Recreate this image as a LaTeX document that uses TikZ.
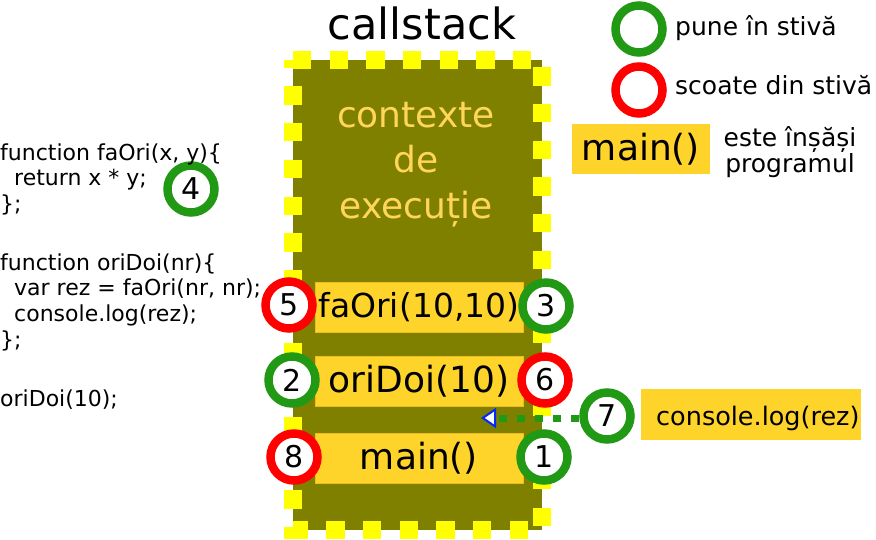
\documentclass[tikz,border=0pt]{standalone}
\usepackage{fontspec}
\setmainfont{DejaVu Sans}
\usetikzlibrary{arrows.meta}
\definecolor{olivebg}{RGB}{128,128,0}
\definecolor{ybord}{RGB}{255,255,0}
\definecolor{framey}{RGB}{255,212,42}
\definecolor{framed}{RGB}{235,190,30}
\definecolor{ctxcol}{RGB}{255,214,90}
\definecolor{pushg}{RGB}{34,153,20}
\definecolor{popr}{RGB}{255,0,0}
\definecolor{tipblue}{RGB}{0,40,255}
\tikzset{
  frame/.style={fill=framey, draw=framed, line width=0.8pt, minimum width=208pt, minimum height=50pt, inner sep=0pt},
  ring/.style={circle, fill=white, line width=8.5pt, minimum size=47pt, inner sep=0pt, font=\fontsize{30}{34}\selectfont},
  pushc/.style={ring, draw=pushg},
  popc/.style={ring, draw=popr},
  codeline/.style={anchor=base west, inner sep=0pt, font=\fontsize{22}{26}\selectfont},
  legtext/.style={anchor=base west, inner sep=0pt, font=\fontsize{25}{30}\selectfont},
  ctxtext/.style={anchor=base, inner sep=0pt, text=ctxcol, font=\fontsize{36}{43}\selectfont},
}
\begin{document}
\begin{tikzpicture}[x=1pt,y=-1pt]
\useasboundingbox (0,0) rectangle (876,540);
% title
\node[anchor=base, inner sep=0pt, font=\fontsize{43}{50}\selectfont] (title) at (422,40) {callstack};
% stack
\node[fill=olivebg, minimum width=249pt, minimum height=470pt, inner sep=0pt] (stack) at (417.5,295) {};
\draw[ybord, line width=18pt, dash pattern=on 18.35pt off 18.35pt, line cap=butt]
  (stack.north west) -- (stack.north east) -- (stack.south east) -- (stack.south west) -- cycle;
\node[ctxtext] (ctx1) at (416,128) {contexte};
\node[ctxtext] (ctx2) at (416,173) {de};
\node[ctxtext] (ctx3) at (416,219) {execuție};
% frames
\node[frame] (fafr) at (419,307) {};
\node[frame] (odfr) at (419,381.5) {};
\node[frame] (mnfr) at (419,458) {};
% circles
\node[popc] (c5) at (289,305) {5};
\node[pushc] (c3) at (546,306) {3};
\node[pushc] (c2) at (292,380) {2};
\node[popc] (c6) at (545,380) {6};
\node[popc] (c8) at (294,457) {8};
\node[pushc] (c1) at (544,457) {1};
\node[pushc] (c7) at (607,416) {7};
\node[pushc] (c4) at (191,189) {4};
% frame texts
\node[inner sep=0pt, font=\fontsize{33}{40}\selectfont] (fatx) at (fafr) {faOri(10,10)};
\node[inner sep=0pt, font=\fontsize{36}{43}\selectfont] (odtx) at (odfr) {oriDoi(10)};
\node[inner sep=0pt, font=\fontsize{36}{43}\selectfont] (mntx) at (mnfr) {main()};
% arrow
\coordinate (tip) at (481,418);
\draw[pushg, line width=7pt, dash pattern=on 8pt off 10pt, line cap=butt,
  -{Triangle[open, length=15pt, width=20pt, line width=2pt, color=tipblue, fill=white]}]
  (c7.west |- tip) -- (tip);
% console.log box
\node[fill=framey, minimum width=220pt, minimum height=51pt, inner sep=0pt] (clbox) at (751,414.5) {};
\node[anchor=base west, inner sep=0pt, font=\fontsize{25.5}{30}\selectfont] (cltx) at (656,425) {console.log(rez)};
% legend
\node[pushc] (lg) at (639,29) {};
\node[popc] (lr) at (639,90) {};
\node[legtext] (lgt) at (675,36) {pune în stivă};
\node[legtext] (lrt) at (675,95) {scoate din stivă};
\node[fill=framey, minimum width=138pt, minimum height=50pt, inner sep=0pt, font=\fontsize{36}{43}\selectfont] (lmain) at (641,149) {main()};
\node[anchor=base, inner sep=0pt, font=\fontsize{25}{30}\selectfont] (lm1) at (790,147) {este înșăși};
\node[anchor=base, inner sep=0pt, font=\fontsize{25}{30}\selectfont] (lm2) at (790,173) {programul};
% code
\node[codeline] (l1) at (0,161) {function faOri(x, y)\{};
\node[codeline] (l2) at (0,186) {\hspace*{14pt}return x * y;};
\node[codeline] (l3) at (0,211.5) {\};};
\node[codeline] (l4) at (0,270.5) {function oriDoi(nr)\{};
\node[codeline] (l5) at (0,296) {\hspace*{14pt}var rez = faOri(nr, nr);};
\node[codeline] (l6) at (0,321.5) {\hspace*{14pt}console.log(rez);};
\node[codeline] (l7) at (0,347) {\};};
\node[codeline] (l8) at (0,406) {oriDoi(10);};
\end{tikzpicture}
\end{document}
